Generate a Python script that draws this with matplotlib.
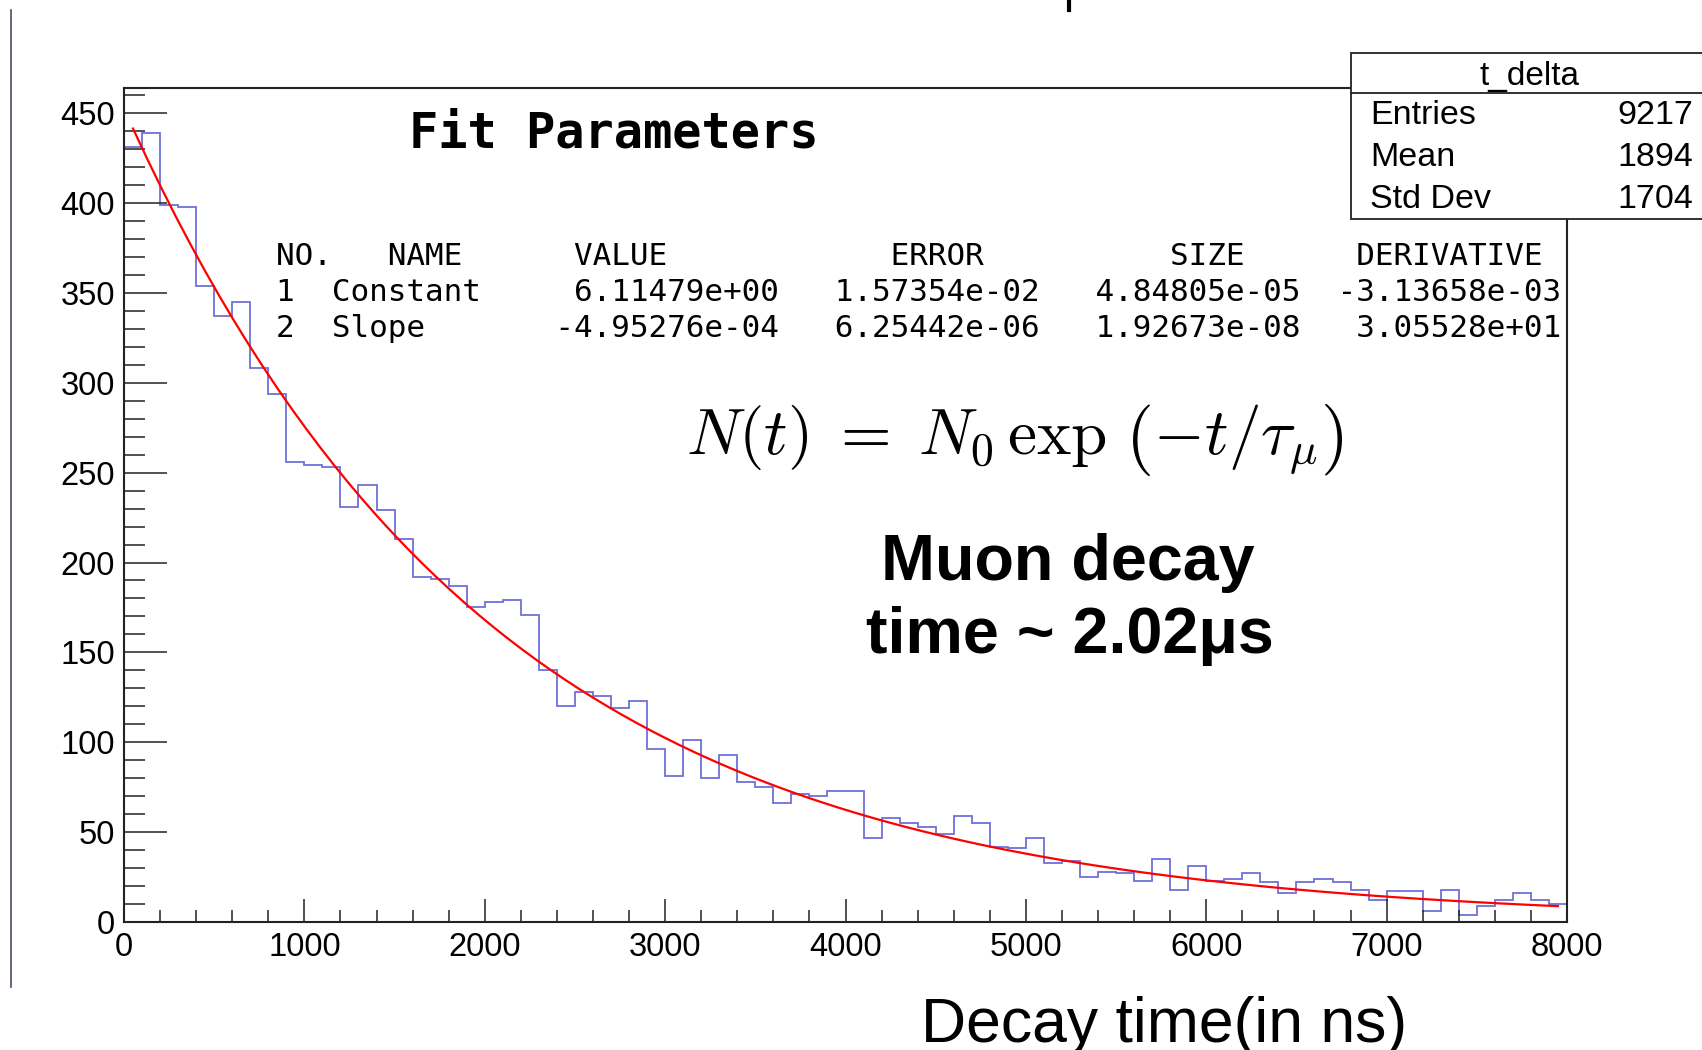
import numpy as np
import matplotlib.pyplot as plt
from matplotlib.patches import Rectangle
from matplotlib.lines import Line2D
from matplotlib.ticker import MultipleLocator

W, H = 1702, 1050

# t_delta histogram: 80 bins of 100 ns between 0 and 8000 ns
bin_edges = np.arange(0, 8001, 100)
counts = [431, 439, 399, 398, 354, 337, 345, 308, 294, 256,
          254, 253, 231, 243, 229, 213, 192, 191, 187, 175,
          178, 179, 171, 140, 120, 128, 126, 119, 123, 96,
          81, 101, 80, 93, 78, 75, 66, 71, 70, 73,
          73, 47, 58, 55, 53, 49, 59, 55, 42, 41,
          47, 33, 34, 25, 28, 27, 23, 35, 18, 31,
          23, 24, 27, 22, 16, 22, 24, 22, 18, 12,
          17, 17, 6, 18, 4, 9, 12, 16, 12, 10]

# expo fit result: exp(Constant + Slope*t)
fit_const = 6.11479
fit_slope = -4.95276e-04
fit_lo, fit_hi = 50, 7950

stat_title = "t_delta"
stat_names = ["Entries", "Mean", "Std Dev"]
stat_values = ["9217", "1894", "1704"]

param_lines = [
    "NO.   NAME      VALUE            ERROR          SIZE      DERIVATIVE",
    "1  Constant     6.11479e+00   1.57354e-02   4.84805e-05  -3.13658e-03",
    "2  Slope       -4.95276e-04   6.25442e-06   1.92673e-08   3.05528e+01",
]


def fx(x):
    return x / W


def fy(y):
    return 1 - y / H


sans = "Liberation Sans"
mono = "DejaVu Sans Mono"

fig = plt.figure(figsize=(W / 100, H / 100), dpi=100)
ax = fig.add_axes([fx(124), fy(922), fx(1567) - fx(124), fy(88) - fy(922)])

ax.stairs(counts, bin_edges, baseline=0, color="#7070d8", lw=1.3)

t = np.linspace(fit_lo, fit_hi, 100)
ax.plot(t, np.exp(fit_const + fit_slope * t), color="#ff0000", lw=1.6)

ax.set_xlim(0, 8000)
ax.set_ylim(0, 464)
ax.xaxis.set_major_locator(MultipleLocator(1000))
ax.xaxis.set_minor_locator(MultipleLocator(200))
ax.yaxis.set_major_locator(MultipleLocator(50))
ax.yaxis.set_minor_locator(MultipleLocator(10))
ax.tick_params(axis="x", which="major", direction="in", length=16.5, width=1.1,
               pad=7, labelsize=23.5, color="#222222")
ax.tick_params(axis="x", which="minor", direction="in", length=8.5, width=1.1,
               color="#222222")
ax.tick_params(axis="y", which="major", direction="in", length=31, width=1.1,
               pad=6.5, labelsize=23.5, color="#222222")
ax.tick_params(axis="y", which="minor", direction="in", length=15, width=1.1,
               color="#222222")
for lab in ax.get_xticklabels() + ax.get_yticklabels():
    lab.set_family(sans)
for sp in ax.spines.values():
    sp.set_linewidth(1.5)
    sp.set_color("#222222")

# fit parameter printout
fig.text(fx(409), fy(147), "Fit Parameters", family=mono, weight="bold",
         fontsize=35, va="baseline", ha="left")
for i, line in enumerate(param_lines):
    fig.text(fx(276), fy(265 + 36 * i), line, family=mono, fontsize=22.3,
             va="baseline", ha="left")

fig.text(fx(686), fy(454), r"$N(t)\;=\;N_0\,\exp\,\left(-t/\tau_{\mu}\right)$",
         math_fontfamily="cm", fontsize=47, va="baseline", ha="left")

fig.text(fx(1068), fy(580), "Muon decay", family=sans, weight="bold",
         fontsize=46.5, va="baseline", ha="center")
fig.text(fx(1070), fy(653), "time ~ 2.02μs", family=sans, weight="bold",
         fontsize=46.5, va="baseline", ha="center")

fig.text(fx(1164), fy(1042), "Decay time(in ns)", family=sans, fontsize=45,
         va="baseline", ha="center")

# statistics box
fig.add_artist(Rectangle((fx(1351), fy(219)), fx(W + 10) - fx(1351), fy(53) - fy(219),
                         transform=fig.transFigure, facecolor="white",
                         edgecolor="#222222", lw=1.3, zorder=5))
fig.add_artist(Line2D([fx(1351), fx(W)], [fy(93), fy(93)], transform=fig.transFigure,
                      color="#222222", lw=1.3, zorder=6))
fig.text(fx(1530), fy(76), stat_title, family=sans, fontsize=24,
         va="center", ha="center", zorder=7)
for i, (name, val) in enumerate(zip(stat_names, stat_values)):
    y = fy(116 + 42 * i)
    fig.text(fx(1370), y, name, family=sans, fontsize=24.5, va="center", ha="left", zorder=7)
    fig.text(fx(1693), y, val, family=sans, fontsize=24.5, va="center", ha="right", zorder=7)

# canvas edge line and clipped title stroke
fig.add_artist(Line2D([fx(11), fx(11)], [fy(10), fy(987)], transform=fig.transFigure,
                      color="#4a4a66", lw=1.2))
fig.add_artist(Line2D([fx(1069), fx(1069)], [fy(0), fy(10)], transform=fig.transFigure,
                      color="black", lw=3))

fig.savefig("out.png", dpi=100)
